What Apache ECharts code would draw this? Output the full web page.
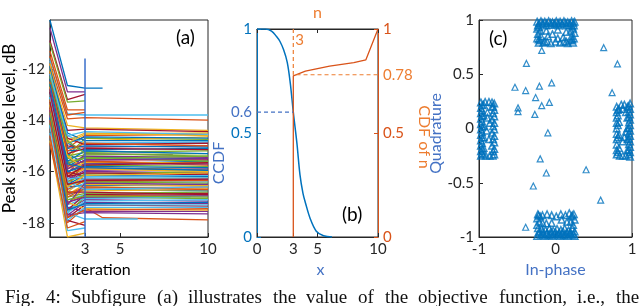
<!DOCTYPE html>
<html><head><meta charset="utf-8">
<script src="https://cdn.jsdelivr.net/npm/echarts@6/dist/echarts.min.js"></script>
<style>html,body{margin:0;padding:0;background:#fff}#c{width:640px;height:306px}</style>
</head><body><div id="c"></div><script>
// ---------- Panel (a): peak sidelobe level vs iteration ----------
const pslIter1 = [-10.1,-12.3,-13.1,-10.4,-12.6,-13.4,-10.9,-11.9,-12.8,-14.8,
 -13.6,-12.1,-11.6,-13.0,-12.5,-14.9,-13.3,-12.9,-11.0,-11.7,
 -13.8,-12.4,-11.8,-13.2,-12.7,-14.1,-14.5,-12.2,-13.5,-11.3,
 -12.0,-12.9,-13.7,-14.2,-12.6,-13.1,-11.5,-11.8,-13.9,-12.8,
 -13.3,-13.9,-12.3,-13.6,-12.0,-12.5,-13.0,-14.0,-12.1,-13.4,
 -14.6,-12.7,-13.2,-12.4,-13.8,-12.2,-12.2,-12.9,-13.5,-14.0,
 -12.6,-13.1,-13.7,-12.0,-12.8,-13.3,-13.7,-12.5,-13.9,-13.0,
 -12.3,-13.6,-13.5,-12.7,-13.2,-14.2,-12.4,-12.9,-13.4,-12.1,
 -13.8,-12.6,-13.1,-13.5,-12.4,-13.2,-12.7,-13.6,-12.3,-13.0,
 -12.9,-13.9,-12.5,-13.4,-12.8,-13.7,-12.2,-13.3,-12.6,-14.0];
const pslIter2 = [-12.65,-15.1,-16.2,-12.9,-15.6,-17.1,-13.2,-14.9,-16.6,-18.55,
 -17.5,-15.4,-13.75,-16.0,-15.8,-18.0,-17.3,-16.4,-13.3,-14.6,
 -17.8,-15.3,-13.95,-16.8,-16.1,-17.6,-18.3,-15.0,-16.9,-13.6,
 -15.5,-16.3,-17.0,-17.6,-15.9,-16.5,-13.8,-14.8,-17.7,-16.0,
 -16.7,-17.9,-15.2,-17.2,-14.2,-15.7,-16.4,-17.4,-14.7,-16.6,
 -18.2,-15.9,-16.2,-15.4,-17.3,-14.4,-14.9,-16.1,-16.8,-17.7,
 -15.6,-16.3,-17.5,-14.5,-15.8,-16.9,-17.4,-15.5,-17.6,-16.2,
 -15.1,-17.0,-17.2,-16.0,-16.5,-17.9,-15.3,-16.0,-16.7,-14.9,
 -17.2,-15.7,-16.6,-16.8,-15.6,-16.9,-15.4,-17.3,-14.8,-16.4,
 -16.2,-17.5,-15.2,-16.6,-15.9,-17.1,-14.6,-16.5,-15.7,-17.8];
const pslIter3 = [-12.75,-14.6,-15.9,-12.9,-16.4,-16.9,-13.0,-15.2,-15.6,-18.4,
 -17.1,-14.7,-13.8,-16.2,-15.45,-17.4,-16.6,-16.0,-13.25,-14.9,
 -17.3,-15.7,-13.9,-16.3,-15.3,-17.0,-18.2,-15.05,-16.7,-13.6,
 -14.8,-15.95,-16.85,-17.85,-15.55,-16.15,-13.7,-14.5,-17.2,-15.75,
 -16.45,-18.1,-15.15,-16.95,-14.3,-15.4,-16.1,-17.3,-14.95,-16.55,
 -17.95,-15.65,-16.3,-15.25,-17.05,-14.35,-14.65,-15.85,-16.75,-17.6,
 -15.5,-16.2,-16.9,-14.8,-15.6,-16.5,-17.55,-15.35,-17.15,-16.05,
 -15.0,-16.65,-17.45,-15.7,-16.4,-17.4,-15.1,-15.8,-16.35,-14.55,
 -17.0,-15.45,-16.25,-16.8,-15.2,-16.6,-15.9,-16.45,-15.3,-16.7,
 -15.75,-17.25,-14.9,-16.15,-15.55,-16.95,-14.45,-16.35,-15.85,-17.5];
const pslEnd = [-12.75,-14.55,-15.85,null,-16.35,-16.95,null,-15.25,-15.7,null,
 -17.15,-14.75,-13.8,-16.1,-15.5,-17.88,-16.65,-16.05,null,-14.85,
 -17.35,-15.6,-14.0,-16.25,-15.35,-17.05,null,-15.0,-16.75,null,
 -14.65,-15.9,-16.8,-17.85,-15.55,-16.2,null,-14.6,-17.25,-15.8,
 -16.4,null,-15.1,-16.9,-14.4,-15.45,-16.0,-17.3,-14.9,-16.5,
 null,-15.65,-16.3,-15.2,-17.0,-14.45,-14.7,-15.95,-16.7,-17.65,
 -15.4,-16.15,-16.85,-14.8,-15.75,-16.55,-17.55,-15.3,-17.1,-16.1,
 -15.05,-16.6,-17.5,-15.7,-16.45,-17.4,-15.15,-15.85,-16.35,-14.5,
 -16.95,-15.6,-16.25,-16.9,-15.3,-16.7,-16.0,-16.5,-15.4,-16.6,
 -15.65,-17.2,-15.0,-16.05,-15.5,-17.0,-14.55,-16.3,-15.95,-17.45];
const pslEndIter = [4,10,10,3,10,10,3,7,10,3,
 10,10,10,10,10,10,10,10,3,10,
 10,10,10,10,8,10,3,10,10,3,
 10,10,10,6,10,10,3,10,10,10,
 10,3,10,10,10,10,10,10,10,10,
 3,10,10,10,9,10,10,10,10,10,
 10,10,10,10,10,10,10,10,10,10,
 10,10,10,10,10,10,10,10,10,10,
 10,10,10,10,10,10,10,10,10,10,
 10,10,10,10,10,10,10,10,10,10];
const pslDetourLine = [15];      // line index with an extra point at iteration 4
const pslDetourValue = [-17.8];
const chosenIter = 3, chosenTop = -11.6;
const aYMin = -18.55, aYMax = -10.1;

// ---------- Panel (b): CCDF of x and CDF of n ----------
const ccdfX = [0, 0.7, 1.2, 1.6, 1.9, 2.2, 2.5, 2.75, 3.0, 3.3, 3.55, 3.8, 4.0, 4.4, 4.9, 5.5, 6.2];
const ccdfY = [1, 1, 0.99, 0.965, 0.94, 0.9, 0.84, 0.74, 0.6, 0.45, 0.3, 0.21, 0.165, 0.088, 0.028, 0.006, 0];
const cdfN   = [3, 3, 4, 5, 6, 7, 8, 9, 10];
const cdfVal = [0, 0.775, 0.797, 0.81, 0.822, 0.83, 0.838, 0.852, 1];
const ccdfMark = 0.6, cdfMark = 0.78, nMark = 3;

// ---------- Panel (c): constellation ----------
const iqTop = [[-0.24,0.985],[-0.19,0.99],[-0.14,0.985],[-0.09,0.99],[-0.04,0.98],[0.01,0.99],[0.06,0.985],[0.11,0.99],[0.16,0.98],[0.21,0.99],[0.25,0.985],
 [-0.215,0.97],[-0.165,0.975],[-0.115,0.97],[-0.065,0.975],[-0.015,0.97],[0.035,0.975],[0.085,0.97],[0.135,0.975],[0.185,0.97],[0.235,0.975],
 [-0.23,0.95],[-0.17,0.96],[-0.12,0.95],[-0.06,0.955],[-0.01,0.96],[0.04,0.95],[0.09,0.96],[0.14,0.95],[0.19,0.955],[0.24,0.95],
 [-0.215,0.935],[0.22,0.94],
 [-0.24,0.92],[-0.2,0.9],[-0.23,0.87],[-0.19,0.85],[-0.24,0.83],[-0.2,0.81],[-0.22,0.79],[-0.22,0.82],
 [0.23,0.92],[0.2,0.9],[0.25,0.88],[0.21,0.85],[0.24,0.83],[0.2,0.81],[0.23,0.79],[0.22,0.82],
 [-0.16,0.79],[-0.11,0.8],[-0.06,0.785],[0.0,0.8],[0.06,0.79],[0.11,0.8],[0.16,0.785],[-0.14,0.8],[0.14,0.8],
 [-0.12,0.9],[0.03,0.91],[0.14,0.89],[-0.1,0.85],[0.03,0.83],[-0.04,0.87],[0.1,0.84]];
const iqBottom = [[-0.24,-0.99],[-0.19,-0.98],[-0.14,-0.99],[-0.09,-0.985],[-0.04,-0.99],[0.01,-0.98],[0.06,-0.99],[0.11,-0.985],[0.16,-0.99],[0.21,-0.98],[0.25,-0.99],
 [-0.215,-0.97],[-0.165,-0.975],[-0.115,-0.97],[-0.065,-0.975],[-0.015,-0.97],[0.035,-0.975],[0.085,-0.97],[0.135,-0.975],[0.185,-0.97],[0.235,-0.975],
 [-0.22,-0.955],[-0.17,-0.95],[-0.11,-0.96],[-0.06,-0.95],[0.0,-0.955],[0.05,-0.96],[0.1,-0.95],[0.15,-0.955],[0.2,-0.96],[0.25,-0.95],
 [-0.13,-0.935],[-0.03,-0.94],[0.07,-0.935],[0.17,-0.94],
 [-0.23,-0.92],[-0.18,-0.925],[-0.08,-0.92],[0.02,-0.925],[0.12,-0.92],[0.22,-0.92],
 [-0.24,-0.89],[-0.21,-0.86],[-0.24,-0.83],[-0.2,-0.81],[-0.23,-0.79],[-0.22,-0.8],
 [0.23,-0.89],[0.2,-0.86],[0.25,-0.84],[0.21,-0.81],[0.24,-0.79],[0.22,-0.8],
 [-0.17,-0.8],[-0.11,-0.79],[-0.05,-0.8],[0.01,-0.81],[0.07,-0.79],[0.13,-0.8],[0.18,-0.78],
 [-0.17,-0.87],[-0.12,-0.875],[-0.05,-0.87],[0.08,-0.84],[0.15,-0.86]];
const iqLeft = [[-0.975,0.24],[-0.975,0.19],[-0.975,0.14],[-0.975,0.09],[-0.975,0.04],[-0.975,-0.01],[-0.975,-0.06],[-0.975,-0.11],[-0.975,-0.16],[-0.975,-0.21],[-0.975,-0.25],
 [-0.96,0.215],[-0.96,0.165],[-0.96,0.115],[-0.96,0.065],[-0.96,0.015],[-0.96,-0.035],[-0.96,-0.085],[-0.96,-0.135],[-0.96,-0.185],[-0.96,-0.23],
 [-0.94,0.22],[-0.94,0.12],[-0.94,0.02],[-0.94,-0.08],[-0.94,-0.18],[-0.94,-0.24],
 [-0.8,0.23],[-0.8,0.17],[-0.8,0.11],[-0.8,0.05],[-0.8,-0.01],[-0.8,-0.07],[-0.8,-0.13],[-0.8,-0.19],[-0.8,-0.24],
 [-0.815,0.2],[-0.815,0.14],[-0.815,0.02],[-0.815,-0.1],[-0.815,-0.21],
 [-0.83,0.2],[-0.83,0.08],[-0.83,-0.04],[-0.83,-0.16],
 [-0.92,0.245],[-0.87,0.245],[-0.83,0.24],[-0.91,-0.25],[-0.86,-0.25],[-0.82,-0.25],
 [-0.89,0.15],[-0.86,0.05],[-0.9,-0.02],[-0.87,-0.1],[-0.89,0.1]];
const iqRight = [[0.975,0.23],[0.975,0.18],[0.975,0.13],[0.975,0.08],[0.975,0.03],[0.975,-0.02],[0.975,-0.07],[0.975,-0.12],[0.975,-0.17],[0.975,-0.22],[0.975,-0.26],
 [0.96,0.205],[0.96,0.155],[0.96,0.105],[0.96,0.055],[0.96,0.005],[0.96,-0.045],[0.96,-0.095],[0.96,-0.145],[0.96,-0.195],[0.96,-0.24],
 [0.94,0.2],[0.94,0.1],[0.94,0.0],[0.94,-0.1],[0.94,-0.2],
 [0.8,0.2],[0.8,0.15],[0.8,0.1],[0.8,0.05],[0.8,0.0],[0.8,-0.05],[0.8,-0.1],[0.8,-0.15],[0.8,-0.2],[0.8,-0.24],
 [0.815,0.17],[0.815,0.12],[0.815,0.03],[0.815,-0.08],[0.815,-0.22],
 [0.83,0.18],[0.83,0.06],[0.83,-0.06],[0.83,-0.18],
 [0.86,0.22],[0.9,0.22],[0.84,-0.25],[0.88,-0.25],[0.92,-0.25],
 [0.88,0.18],[0.92,0.15],[0.9,-0.08],[0.88,-0.12],[0.92,-0.03]];
const iqScatter = [[0.63,0.745],[0.81,0.595],[0.74,0.33],[-0.38,0.6],[-0.53,0.38],[-0.39,0.35],[-0.21,0.39],[-0.05,0.42],
 [-0.26,0.285],[-0.08,0.24],[-0.18,0.21],[-0.49,0.19],[-0.49,0.155],[-0.27,0.13],[-0.1,-0.04],[-0.2,-0.28],[-0.12,-0.41],
 [-0.29,-0.53],[0.4,-0.38],[0.59,-0.66],[-0.39,-0.91],[-0.18,0.72]];

const captionText = 'Fig. 4: Subfigure (a) illustrates the value of the objective function, i.e., the';

// ---------- styling ----------
const FONT = 'Lato';
const INK = '#262626';
const MATLAB = ['#0072BD','#D95319','#EDB120','#7E2F8E','#77AC30','#4DBEEE','#A2142F'];
const BLUE = '#0072BD', BLUE2 = '#4472C4', ORANGE = '#D95319', ORANGE2 = '#ED7D31';

function axisBase(grid, color, ticks, labels, extra) {
  return Object.assign({
    gridIndex: grid, type: 'value', splitLine: {show: false},
    axisLine: {show: true, onZero: false, lineStyle: {color: color, width: 1}},
    axisTick: {show: true, inside: true, length: 4, customValues: ticks, lineStyle: {color: color}},
    axisLabel: {customValues: labels, color: color, fontSize: 15, fontFamily: FONT, margin: 5}
  }, extra || {});
}

const series = [];
for (let i = 0; i < pslIter1.length; i++) {
  const pts = [[1, pslIter1[i]], [2, pslIter2[i]], [3, pslIter3[i]]];
  const d = pslDetourLine.indexOf(i);
  if (d >= 0) pts.push([4, pslDetourValue[d]]);
  if (pslEndIter[i] > 3) pts.push([pslEndIter[i], pslEnd[i]]);
  series.push({type: 'line', xAxisIndex: 0, yAxisIndex: 0, data: pts, symbol: 'none',
    lineStyle: {width: 1.3, color: MATLAB[i % 7]}, silent: true, z: 2});
}
series.push({type: 'line', xAxisIndex: 0, yAxisIndex: 0, symbol: 'none', z: 4,
  data: [[chosenIter, chosenTop], [chosenIter, aYMin]], lineStyle: {width: 1.5, color: '#3A6FCB'}});

// panel b
series.push({type: 'line', xAxisIndex: 1, yAxisIndex: 1, symbol: 'none', smooth: 0.35, z: 3,
  data: ccdfX.map((x, i) => [x, ccdfY[i]]), lineStyle: {width: 1.5, color: BLUE}});
series.push({type: 'line', xAxisIndex: 1, yAxisIndex: 2, symbol: 'none', z: 3,
  data: cdfN.map((x, i) => [x, cdfVal[i]]), lineStyle: {width: 1.3, color: ORANGE}});
series.push({type: 'line', xAxisIndex: 1, yAxisIndex: 1, symbol: 'none', z: 3,
  data: [[0, ccdfMark], [nMark, ccdfMark]], lineStyle: {width: 1.2, color: BLUE2, type: [4, 3]}});
series.push({type: 'line', xAxisIndex: 1, yAxisIndex: 2, symbol: 'none', z: 3,
  data: [[nMark, 1], [nMark, cdfMark], [10, cdfMark]], lineStyle: {width: 1.2, color: ORANGE2, type: [4, 3]}});

// panel c
[iqTop, iqBottom, iqLeft, iqRight].forEach(arr => {
  series.push({type: 'scatter', xAxisIndex: 3, yAxisIndex: 3, data: arr, symbol: 'triangle', symbolSize: 6.5,
    itemStyle: {color: 'rgba(0,0,0,0)', borderColor: BLUE, borderWidth: 1.5}, silent: true});
});
series.push({type: 'scatter', xAxisIndex: 3, yAxisIndex: 3, data: iqScatter, symbol: 'triangle', symbolSize: 6,
  itemStyle: {color: 'rgba(0,0,0,0)', borderColor: BLUE, borderWidth: 1.2}, silent: true});

// justified caption words
const capFont = 19, capLeft = 5, capRight = 639;
const mctx = document.createElement('canvas').getContext('2d');
mctx.font = capFont + 'px "Liberation Serif"';
const capWords = captionText.split(' ');
const capWidths = capWords.map(w => mctx.measureText(w).width);
const capGap = (capRight - capLeft - capWidths.reduce((a, b) => a + b, 0)) / (capWords.length - 1);
const captionGraphics = [];
let cx = capLeft;
capWords.forEach((w, i) => {
  captionGraphics.push({type: 'text', left: Math.round(cx), top: 289,
    style: {text: w, fontSize: capFont, fontFamily: 'Liberation Serif', fill: '#111'}});
  cx += capWidths[i] + capGap;
});

const option = {
  animation: false,
  backgroundColor: '#fff',
  grid: [
    {left: 48, top: 20, width: 160, height: 217, show: true, borderColor: INK, borderWidth: 1},
    {left: 257, top: 20, width: 121, height: 217, show: true, borderColor: INK, borderWidth: 1},
    {left: 479, top: 20, width: 153, height: 217, show: true, borderColor: INK, borderWidth: 1}
  ],
  xAxis: [
    axisBase(0, INK, [3, 5, 10], [3, 5, 10], {min: 1, max: 10, name: 'iteration', nameLocation: 'middle', nameGap: 24,
      nameTextStyle: {color: '#000', fontSize: 16, fontFamily: FONT, padding: [0, 56, 0, 0]}}),
    axisBase(1, INK, [0, 3, 5, 10], [0, 3, 5, 10], {min: 0, max: 10, name: 'x', nameLocation: 'middle', nameGap: 22,
      nameTextStyle: {color: BLUE2, fontSize: 16, fontFamily: FONT, padding: [0, 0, 0, 6]}}),
    axisBase(1, INK, [0, 5, 10], [nMark], {min: 0, max: 10, position: 'top', name: 'n', nameLocation: 'middle', nameGap: 8,
      nameTextStyle: {color: ORANGE2, fontSize: 16, fontFamily: FONT}}),
    axisBase(2, INK, [-1, 0, 1], [-1, 0, 1], {min: -1, max: 1, name: 'In-phase', nameLocation: 'middle', nameGap: 22,
      nameTextStyle: {color: BLUE2, fontSize: 16, fontFamily: FONT}})
  ],
  yAxis: [
    axisBase(0, INK, [-18, -16, -14, -12], [-18, -16, -14, -12], {min: aYMin, max: aYMax, name: 'Peak sidelobe level, dB',
      nameLocation: 'middle', nameGap: 27, nameRotate: 90, nameTextStyle: {color: '#000', fontSize: 17, fontFamily: FONT}}),
    axisBase(1, BLUE, [0, 0.5, 1], [0, 0.5, ccdfMark, 1], {min: 0, max: 1, name: 'CCDF', nameLocation: 'middle', nameGap: 20,
      nameRotate: 90, nameTextStyle: {color: BLUE2, fontSize: 16, fontFamily: FONT, padding: [0, 60, 0, 0]}}),
    axisBase(1, ORANGE, [0, 0.5, 1], [0, 0.5, cdfMark, 1], {min: 0, max: 1, position: 'right', name: 'CDF of n', nameLocation: 'middle',
      nameGap: 26, nameRotate: -90, nameTextStyle: {color: ORANGE2, fontSize: 16, fontFamily: FONT, padding: [0, 0, 0, 8]}}),
    axisBase(2, INK, [-1, -0.5, 0, 0.5, 1], [-1, -0.5, 0, 0.5, 1], {min: -1, max: 1, name: 'Quadrature', nameLocation: 'middle',
      nameGap: 22, nameRotate: 90, nameTextStyle: {color: BLUE2, fontSize: 16, fontFamily: FONT, padding: [0, 10, 0, 0]}})
  ],
  series: series,
  graphic: [
    {type: 'text', left: 176, top: 28, style: {text: '(a)', fontSize: 19, fontFamily: FONT, fill: '#000'}},
    {type: 'text', left: 342, top: 205, style: {text: '(b)', fontSize: 19, fontFamily: FONT, fill: '#000'}},
    {type: 'text', left: 489, top: 29, style: {text: '(c)', fontSize: 19, fontFamily: FONT, fill: '#000'}}
  ].concat(captionGraphics)
};
option.yAxis[1].axisLabel.formatter = v => (Math.abs(v - ccdfMark) < 1e-9 ? '{m|' + v + '}' : String(v));
option.yAxis[1].axisLabel.rich = {m: {color: BLUE2, fontSize: 15, fontFamily: FONT}};
option.yAxis[2].axisLabel.formatter = v => (Math.abs(v - cdfMark) < 1e-9 ? '{m|' + v + '}' : String(v));
option.yAxis[2].axisLabel.rich = {m: {color: ORANGE2, fontSize: 15, fontFamily: FONT}};
option.xAxis[2].axisLabel.inside = true;
option.xAxis[2].axisLabel.color = ORANGE2;
option.xAxis[2].axisLabel.align = 'left';
option.xAxis[2].axisLabel.margin = 4;
option.xAxis[2].axisLabel.padding = [0, 0, 0, 2];

const chart = echarts.init(document.getElementById('c'), null, {renderer: 'canvas'});
chart.setOption(option);
</script></body></html>
